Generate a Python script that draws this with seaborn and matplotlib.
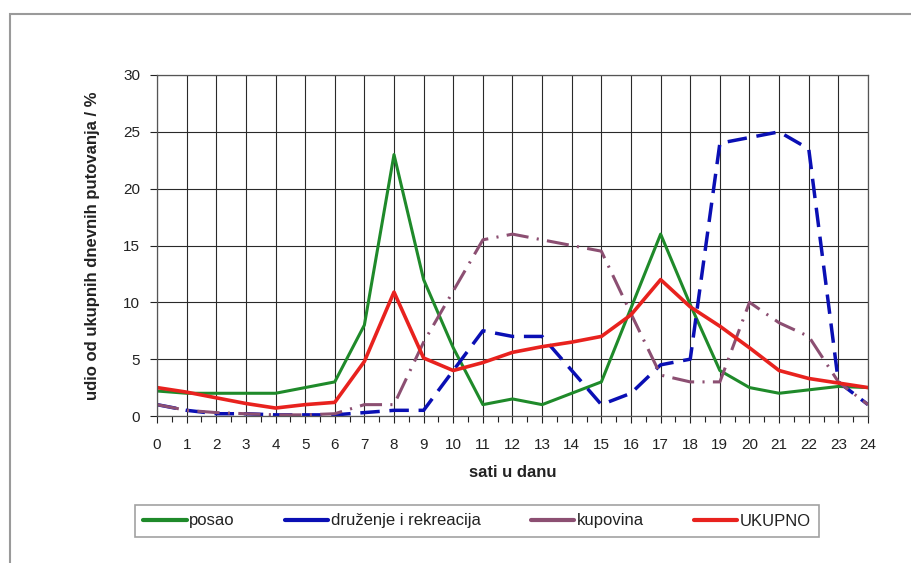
import numpy as np
import pandas as pd
import matplotlib
matplotlib.use("Agg")
import matplotlib.pyplot as plt
from matplotlib.lines import Line2D
from matplotlib.patches import Rectangle
from matplotlib.ticker import MultipleLocator
import seaborn as sns

# data
hours = list(range(25))
posao = [2.2, 2.0, 2.0, 2.0, 2.0, 2.5, 3.0, 8.0, 23.0, 12.0, 6.0, 1.0, 1.5,
         1.0, 2.0, 3.0, 9.5, 16.0, 9.8, 4.0, 2.5, 2.0, 2.3, 2.6, 2.5]
druzenje = [1.0, 0.5, 0.2, 0.2, 0.1, 0.1, 0.1, 0.3, 0.5, 0.5, 4.0, 7.5, 7.0,
            7.0, 4.0, 1.0, 2.0, 4.5, 5.0, 24.0, 24.5, 25.0, 23.5, 3.0, 1.0]
kupovina = [1.0, 0.5, 0.3, 0.2, 0.1, 0.1, 0.2, 1.0, 1.0, 6.5, 11.0, 15.5, 16.0,
            15.5, 15.0, 14.5, 9.0, 3.6, 3.0, 3.0, 10.0, 8.2, 7.0, 3.0, 1.0]
ukupno = [2.5, 2.1, 1.6, 1.1, 0.7, 1.0, 1.2, 4.8, 10.9, 5.1, 4.0, 4.7, 5.6,
          6.1, 6.5, 7.0, 8.9, 12.0, 9.6, 7.9, 6.0, 4.0, 3.3, 2.9, 2.5]

labels = ["posao", "druženje i rekreacija", "kupovina", "UKUPNO"]
colors = ["#1f8a2a", "#0a0fb4", "#8c4f72", "#e8221e"]
widths = [2.2, 2.5, 2.2, 2.6]
dashes = [None, (14, 7), (16, 6, 1.5, 6), None]

sns.set_style("white")
plt.rcParams["font.family"] = ["Liberation Sans", "DejaVu Sans"]
plt.rcParams["lines.scale_dashes"] = False

fig = plt.figure(figsize=(9.12, 5.63), dpi=100)
ax = fig.add_axes([157 / 912, 1 - 416 / 563, 711 / 912, 341 / 563])

for vals, lab, col, lw, ds in zip([posao, druzenje, kupovina, ukupno],
                                  labels, colors, widths, dashes):
    sns.lineplot(x=hours, y=vals, color=col, linewidth=lw, ax=ax, legend=False)
    if ds is not None:
        ax.lines[-1].set_dashes(ds)

ax.set_xlim(0, 24)
ax.set_ylim(0, 30)
ax.xaxis.set_major_locator(MultipleLocator(1))
ax.xaxis.set_minor_locator(MultipleLocator(0.5))
ax.yaxis.set_major_locator(MultipleLocator(5))
ax.grid(True, which="major", color="#2a2a2a", linewidth=0.8)
ax.set_axisbelow(True)
ax.tick_params(axis="x", which="major", direction="out", length=5, width=0.8,
               pad=11, labelsize=11, colors="#222222", bottom=True)
ax.tick_params(axis="x", which="minor", direction="out", length=4, width=0.8,
               color="#222222", bottom=True)
ax.tick_params(axis="y", direction="out", length=5, width=0.8, pad=7,
               labelsize=11, colors="#222222", left=True)
for sp in ax.spines.values():
    sp.set_color("#555555")
    sp.set_linewidth(0.9)

ax.set_xlabel("sati u danu", fontsize=12, fontweight="bold", color="#222222")
ax.xaxis.set_label_coords(0.5, -0.145)
ax.set_ylabel("udio od ukupnih dnevnih putovanja / %", fontsize=12,
              fontweight="bold", color="#222222")
ax.yaxis.set_label_coords(-0.08, 0.5)

handles = [Line2D([], [], color=c, linewidth=3) for c in colors]
leg = fig.legend(handles, labels, loc="center", bbox_to_anchor=(477 / 912, 1 - 521 / 563),
                 ncol=4, fontsize=12, frameon=True, fancybox=False,
                 handlelength=2.6, handletextpad=0.15, columnspacing=3.0,
                 borderpad=0.5)
leg.get_frame().set_edgecolor("#8a8a8a")
leg.get_frame().set_linewidth(1.2)
for t in leg.get_texts():
    t.set_color("#222222")

# outer chart border
fig.add_artist(Rectangle((10 / 912, -0.05), 1.0, 1 - 14 / 563 + 0.05,
                         transform=fig.transFigure, fill=False,
                         edgecolor="#9a9a9a", linewidth=1.5))

fig.savefig("out.png", dpi=100)
